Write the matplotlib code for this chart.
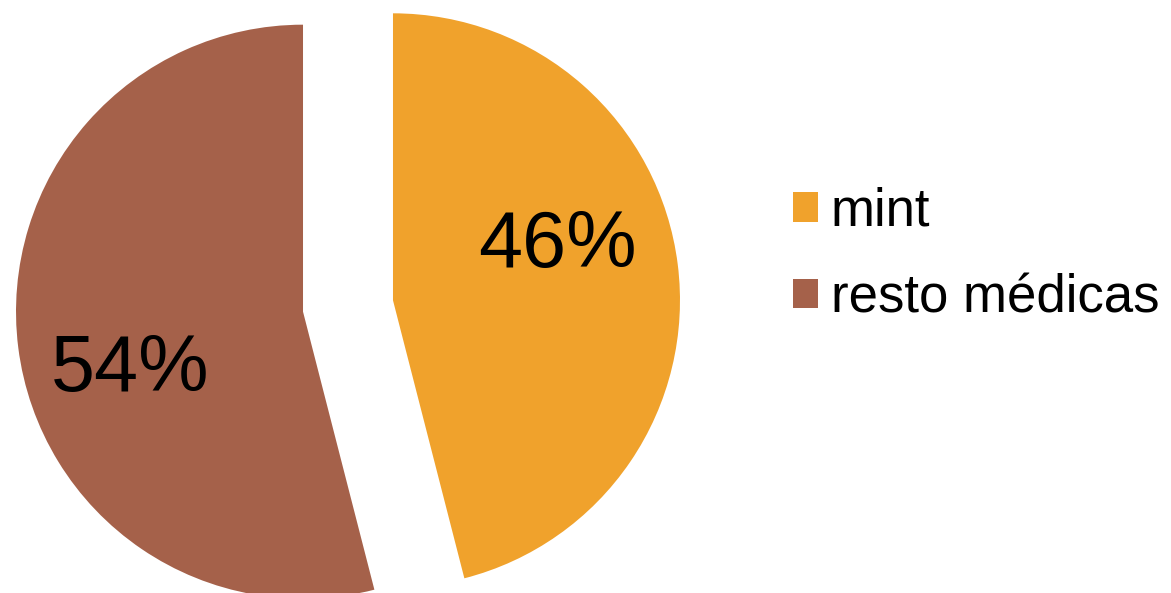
import matplotlib

matplotlib.use("Agg")

import matplotlib.pyplot as plt

# Share of prescriptions
LABELS = ["mint", "resto médicas"]
SHARES = [46, 54]
COLORS = ["#F0A22C", "#A5614A"]

# label anchor points (pixel space, origin bottom-left)
PCT_POS = [(557, 347), (130, 222)]

W, H = 1171, 593
R = 287
plt.rcParams["font.family"] = ["Liberation Sans", "DejaVu Sans"]

fig = plt.figure(figsize=(W / 100, H / 100), dpi=100)
ax = fig.add_axes([0, 0, 1, 1])

# explode is in data units here since the axes are in pixels
wedges, _ = ax.pie(SHARES, colors=COLORS, startangle=90, counterclock=False,
                   explode=[0.158 * R, 0.158 * R], radius=R, center=(348, 287),
                   wedgeprops=dict(linewidth=0))
ax.set_xlim(0, W)
ax.set_ylim(0, H)
ax.set_aspect("auto")
ax.set_axis_off()

for (x, y), v in zip(PCT_POS, SHARES):
    ax.text(x, y, f"{v}%", fontsize=57, ha="center", va="center", color="black")

leg = ax.legend(wedges, LABELS, loc="center left", bbox_to_anchor=(793 / W, 1 - 255 / H),
                bbox_transform=fig.transFigure, frameon=False, fontsize=38,
                handlelength=0.47, handleheight=0.47, handletextpad=0.25,
                labelspacing=0.69, borderpad=0, borderaxespad=0)

fig.savefig("out.png", dpi=100)
